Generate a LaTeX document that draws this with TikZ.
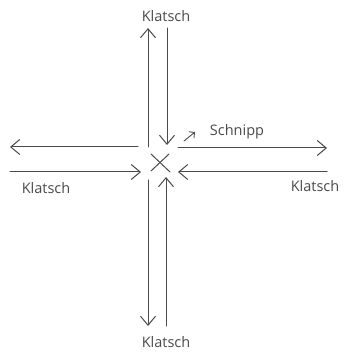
\documentclass[tikz,border=0pt]{standalone}
\usepackage{fontspec}
\setmainfont{Open Sans}
\usetikzlibrary{arrows.meta}
\definecolor{pencil}{HTML}{4A4A4A}
\tikzset{
  stroke/.style={draw=pencil, line width=1pt, line cap=round,
    -{Straight Barb[length=9pt,width=15pt,line width=1pt]}},
  plainline/.style={draw=pencil, line width=1pt, line cap=round},
  word/.style={text=pencil, font=\fontsize{14.5}{16}\selectfont, inner sep=0pt}
}
\begin{document}
\begin{tikzpicture}[x=1pt,y=-1pt]
\useasboundingbox (0,0) rectangle (346,352);
% text labels
\node[word] (ktop) at (166,16) {Klatsch};
\node[word] (kbot) at (166,342) {Klatsch};
\node[word] (kleft) at (46,188) {Klatsch};
\node[word] (kright) at (315,186) {Klatsch};
\node[word] (schnipp) at (237,132) {Schnipp};
% coordinates
\coordinate (tu0) at (148,147); \coordinate (tu1) at (148,28);
\coordinate (td0) at (167,28);  \coordinate (td1) at (167,145);
\coordinate (bd0) at (148,180); \coordinate (bd1) at (148,326);
\coordinate (bu0) at (166,326); \coordinate (bu1) at (166,177);
\coordinate (lu0) at (138,147); \coordinate (lu1) at (10,147);
\coordinate (ld0) at (10,172);  \coordinate (ld1) at (141,172);
\coordinate (rr0) at (178,148); \coordinate (rr1) at (327,148);
\coordinate (rl0) at (327,172); \coordinate (rl1) at (178,172);
\coordinate (s0) at (184,141);  \coordinate (s1) at (195,132);
\coordinate (xa) at (151,154);  \coordinate (xb) at (170,172);
\coordinate (xc) at (169,154);  \coordinate (xd) at (151,171);
% arrows
\draw[stroke] (tu0) -- (tu1);
\draw[stroke] (td0) -- (td1);
\draw[stroke] (bd0) -- (bd1);
\draw[stroke] (bu0) -- (bu1);
\draw[stroke] (lu0) -- (lu1);
\draw[stroke] (ld0) -- (ld1);
\draw[stroke] (rr0) -- (rr1);
\draw[stroke] (rl0) -- (rl1);
\draw[draw=pencil, line width=0.9pt, line cap=round,
  -{Straight Barb[length=4pt,width=8pt,line width=0.9pt]}] (s0) -- (s1);
% cross
\draw[plainline] (xa) -- (xb);
\draw[plainline] (xc) -- (xd);
\end{tikzpicture}
\end{document}
